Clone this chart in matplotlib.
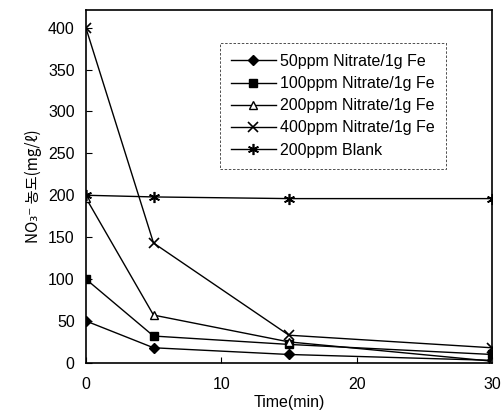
import matplotlib
matplotlib.use("Agg")
import matplotlib.pyplot as plt

time = [0, 5, 15, 30]
s50 = [50, 18, 10, 3]
s100 = [100, 32, 22, 10]
s200 = [197, 57, 25, 2]
s400 = [400, 143, 33, 18]
blank = [200, 198, 196, 196]
labels = ["50ppm Nitrate/1g Fe", "100ppm Nitrate/1g Fe", "200ppm Nitrate/1g Fe",
          "400ppm Nitrate/1g Fe", "200ppm Blank"]
xticks = [0, 10, 20, 30]
yticks = [0, 50, 100, 150, 200, 250, 300, 350, 400]

plt.rcParams['font.family'] = ['Liberation Sans', 'DejaVu Sans']

fig = plt.figure(figsize=(5.02, 4.19), dpi=100)
ax = fig.add_axes([0.171, 0.134, 0.809, 0.842])

ax.plot(time, s50, color='black', lw=1, marker='D', ms=5, mfc='black', label=labels[0])
ax.plot(time, s100, color='black', lw=1, marker='s', ms=6, mfc='black', label=labels[1])
ax.plot(time, s200, color='black', lw=1, marker='^', ms=6, mfc='white', label=labels[2])
ax.plot(time, s400, color='black', lw=1, marker='x', ms=7, mew=1.2, label=labels[3])
ax.plot(time, blank, color='black', lw=1, marker=(6, 2, 0), ms=8, mew=1.2, label=labels[4])

ax.set_xlim(0, 30)
ax.set_ylim(0, 421)
ax.set_xticks(xticks)
ax.set_yticks(yticks)
ax.tick_params(direction='in', length=4, labelsize=11.5, width=0.8)
ax.tick_params(axis='x', pad=10)
ax.tick_params(axis='y', pad=8)
for sp in ax.spines.values():
    sp.set_linewidth(1.2)

ax.set_xlabel("Time(min)", fontsize=11.5, labelpad=2)
ax.set_ylabel("NO₃⁻ 농도(mg/ℓ)", fontsize=11, family=['Noto Sans CJK KR', 'DejaVu Sans'], labelpad=4)

leg = ax.legend(loc='upper left', bbox_to_anchor=(0.31, 0.93), fontsize=11.5, frameon=True,
                fancybox=False, edgecolor='black', handlelength=2.8, borderpad=0.7,
                labelspacing=0.45, handletextpad=0.3)
leg.get_frame().set_linestyle((0, (3, 2)))
leg.get_frame().set_linewidth(0.6)

fig.savefig("out.png", dpi=100)
